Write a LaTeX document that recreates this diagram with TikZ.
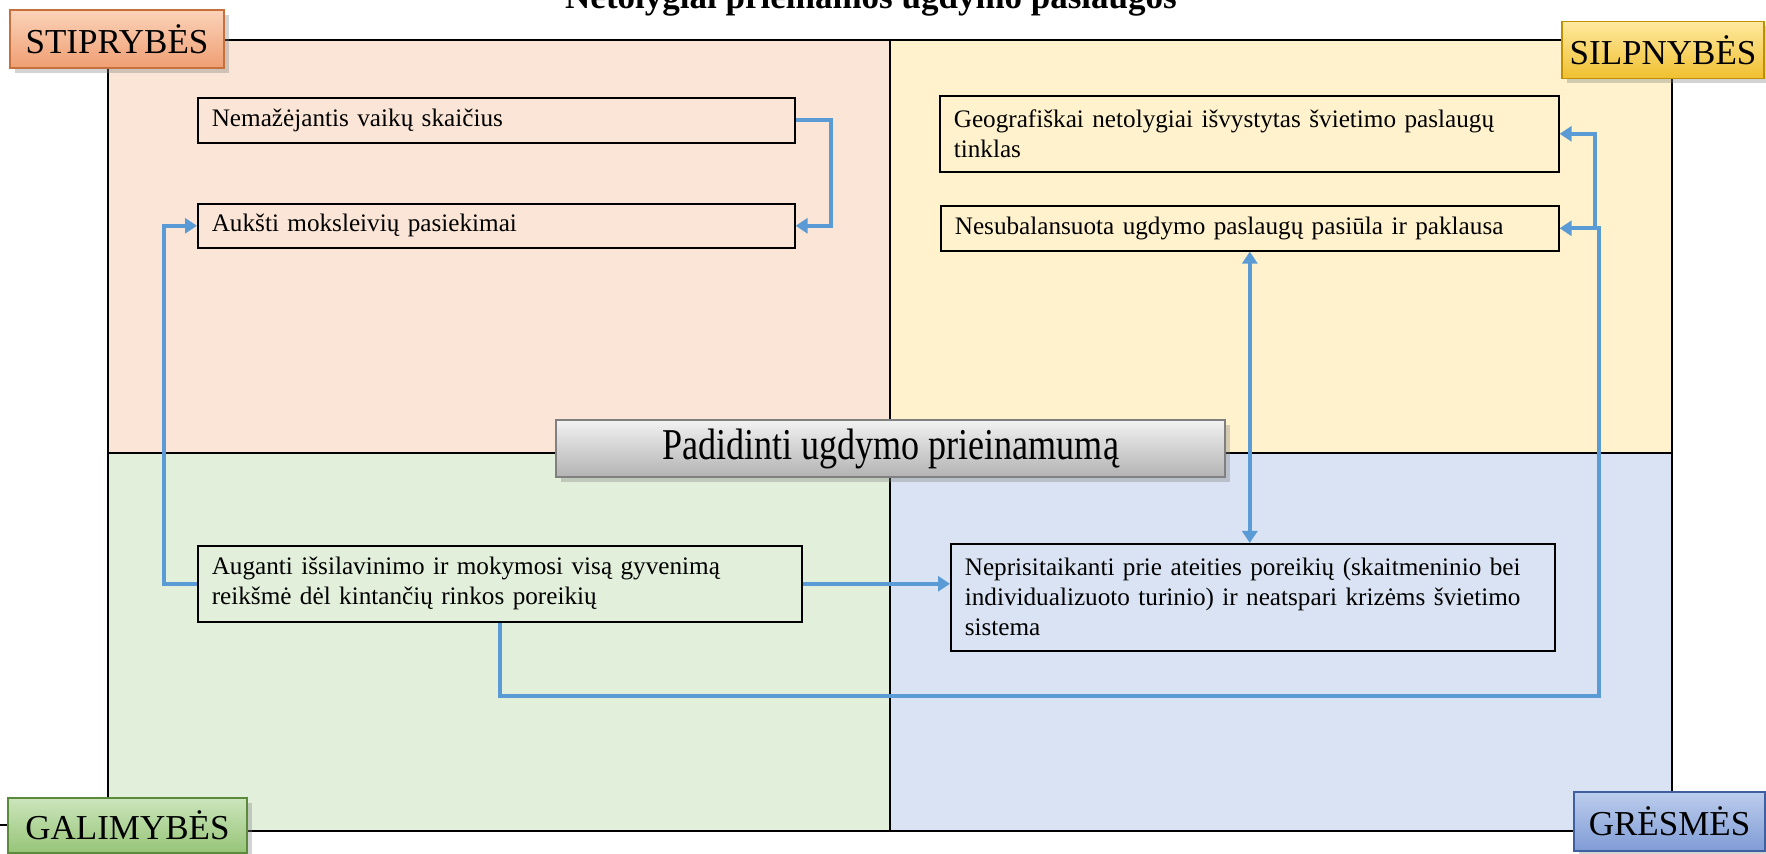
\documentclass[tikz,border=0pt]{standalone}
\usepackage{fontspec}
\setmainfont{Liberation Serif}
\newfontfamily\condserif{Liberation Serif}[FakeStretch=0.82]
\usetikzlibrary{arrows.meta,shadows}

\definecolor{strfill}{HTML}{FBE5D6}
\definecolor{silfill}{HTML}{FFF2CC}
\definecolor{galfill}{HTML}{E2EFDA}
\definecolor{grefill}{HTML}{DAE3F3}
\definecolor{flowblue}{HTML}{5B9BD5}
\definecolor{stiptop}{HTML}{FBD3BA}
\definecolor{stipbot}{HTML}{EF9E72}
\definecolor{stipline}{HTML}{C6703E}
\definecolor{silptop}{HTML}{FFE9A0}
\definecolor{silpbot}{HTML}{F0C030}
\definecolor{silpline}{HTML}{BF9000}
\definecolor{galitop}{HTML}{CCE5BC}
\definecolor{galibot}{HTML}{96C478}
\definecolor{galiline}{HTML}{5C8A3C}
\definecolor{grestop}{HTML}{BCCDEC}
\definecolor{gresbot}{HTML}{809CD6}
\definecolor{gresline}{HTML}{3F5F9F}

\begin{document}
\begin{tikzpicture}[x=0.5pt,y=-0.5pt,
    >={Triangle[width=7.5pt,length=6pt]},
    item/.style={draw, line width=0.8pt, anchor=north west, align=left,
      inner xsep=7pt, font=\fontsize{12.6}{15}\selectfont},
    flow/.style={draw=flowblue, line width=2pt},
    tag/.style={draw=#1, line width=0.8pt, inner sep=0pt,
      drop shadow={shadow xshift=2.5pt, shadow yshift=-2.5pt, opacity=0.35},
      font=\fontsize{17.5}{20}\selectfont}]
  \useasboundingbox (0,0) rectangle (1766,854);

  % quadrants
  \fill[strfill] (108,40) rectangle (890,453);
  \fill[silfill] (890,40) rectangle (1672,453);
  \fill[galfill] (108,453) rectangle (890,831);
  \fill[grefill] (890,453) rectangle (1672,831);
  \draw[line width=1pt] (108,40) rectangle (1672,831);
  \draw[line width=1pt] (890,40) -- (890,831);
  \draw[line width=1pt] (108,453) -- (1672,453);
  \draw[line width=1pt] (0,825) -- (20,825);

  % title
  \node[anchor=base, font=\bfseries\fontsize{17.5}{20}\selectfont] (title) at (871,9)
    {Netolygiai prieinamos ugdymo paslaugos};

  % items
  \node[item, text width=284.5pt, minimum height=22.5pt] (nema) at (197,97)
    {\strut Nemažėjantis vaikų skaičius};
  \node[item, text width=284.5pt, minimum height=22pt] (aukst) at (197,203)
    {\strut Aukšti moksleivių pasiekimai};
  \node[item, text width=295.5pt, minimum height=38pt] (geo) at (939,95)
    {Geografiškai netolygiai išvystytas švietimo paslaugų\\tinklas};
  \node[item, text width=295pt, minimum height=22.5pt] (nesub) at (940,205)
    {\strut Nesubalansuota ugdymo paslaugų pasiūla ir paklausa};
  \node[item, text width=288pt, minimum height=38pt] (aug) at (197,545)
    {Auganti išsilavinimo ir mokymosi visą gyvenimą\\reikšmė dėl kintančių rinkos poreikių};
  \node[item, text width=288pt, minimum height=53.5pt] (nepr) at (950,543)
    {Neprisitaikanti prie ateities poreikių (skaitmeninio bei\\individualizuoto turinio) ir neatspari krizėms švietimo\\sistema};

  % connectors
  \draw[flow, ->] (nema.east) -- ++(35,0) |- (aukst.east);
  \draw[flow, ->] (aug.west) -- ++(-33,0) |- (aukst.west);
  \draw[flow, ->] (aug.east) -- (aug.east -| nepr.west);
  \draw[flow, <->] (nesub.south) -- (nesub.south |- nepr.north);
  \draw[flow, ->] (aug.south) -- ++(0,73) -| ([xshift=19.5pt]nesub.east) -- (nesub.east);
  \draw[flow, ->] ([xshift=17.5pt]nesub.east) |- (geo.east);

  % labels
  \node[tag=stipline, top color=stiptop, bottom color=stipbot,
    minimum width=107pt, minimum height=29pt] (stip) at (117,39) {STIPRYBĖS};
  \node[tag=silpline, top color=silptop, bottom color=silpbot,
    minimum width=101pt, minimum height=28.5pt] (silp) at (1663,50) {SILPNYBĖS};
  \node[tag=galiline, top color=galitop, bottom color=galibot,
    minimum width=119.5pt, minimum height=27.5pt] (gali) at (127.5,825.5) {GALIMYBĖS};
  \node[tag=gresline, top color=grestop, bottom color=gresbot,
    minimum width=95.5pt, minimum height=29.5pt] (gres) at (1669.5,821.5) {GRĖSMĖS};
  \node[tag=black!50, top color=black!5, bottom color=black!30,
    minimum width=334.5pt, minimum height=28.5pt,
    font=\condserif\fontsize{22}{26}\selectfont] (goal) at (890.5,448.5)
    {Padidinti ugdymo prieinamumą};
\end{tikzpicture}
\end{document}
